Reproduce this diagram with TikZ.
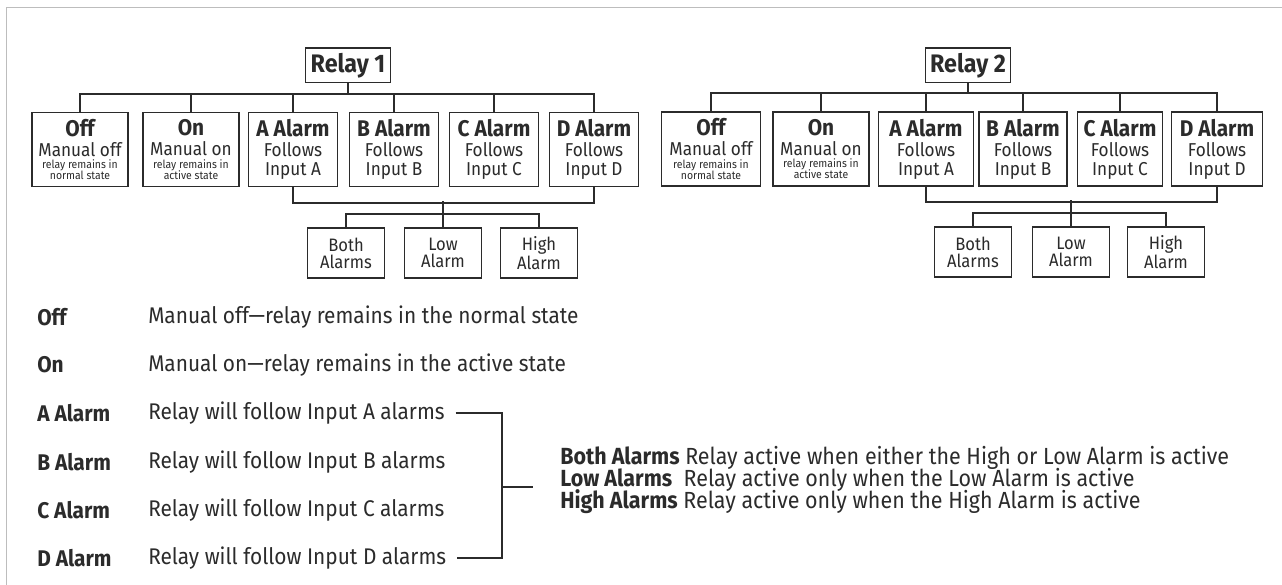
\documentclass[tikz,border=0pt]{standalone}
\usepackage{fontspec}
\setsansfont{Fira Sans}[FakeStretch=0.92]
\usetikzlibrary{positioning}
\definecolor{ink}{HTML}{2B2B2B}
\definecolor{framegray}{HTML}{BDBDBD}
\newcommand{\boxhd}{\fontsize{17}{17}\selectfont\bfseries}
\newcommand{\boxmd}{\fontsize{14}{14}\selectfont\mdseries}
\newcommand{\boxsm}{\fontsize{8.5}{8.5}\selectfont\mdseries}

\begin{document}
\begin{tikzpicture}[x=0.75pt, y=-0.75pt, font=\sffamily, text=ink,
  box/.style={draw=ink, line width=1pt, fill=white, align=center, inner sep=0pt, minimum width=67pt, minimum height=55.5pt, font=\sffamily\fontsize{14}{14.25}\selectfont},
  wide/.style={box, minimum width=72pt},
  sub/.style={box, minimum width=57.75pt, minimum height=37.5pt, font=\sffamily\fontsize{13.5}{12.75}\selectfont},
  relay/.style={box, minimum width=64pt, minimum height=26pt, font=\sffamily\bfseries\fontsize{19}{19}\selectfont},
  bus/.style={draw=ink, line width=1.5pt},
  link/.style={draw=ink, line width=1.1pt},
  key/.style={anchor=west, inner sep=0pt, font=\sffamily\bfseries\fontsize{17}{18}\selectfont},
  txt/.style={anchor=west, inner sep=0pt, font=\sffamily\fontsize{17}{18}\selectfont},
  note/.style={anchor=west, inner sep=0pt, font=\sffamily\fontsize{17.5}{18}\selectfont}]
\useasboundingbox (0,0) rectangle (1282,585);
\draw[framegray, line width=1pt] (6.5,585) -- (6.5,7.5) -- (1282,7.5);
% ---------------- Relay 1
\node[relay] (r1) at (348,65.5) {Relay 1};
\node[wide] (off1) at (80,149.6) {\boxhd Off\\[0.75pt]\boxmd Manual off\\[-5pt]\boxsm relay remains in\\[-5.95pt]\boxsm normal state};
\node[wide] (on1) at (191,149.6) {\boxhd On\\[0.75pt]\boxmd Manual on\\[-5pt]\boxsm relay remains in\\[-5.95pt]\boxsm active state};
\node[box] (aal1) at (293,149.6) {\boxhd A Alarm\\[0.75pt]\boxmd Follows\\\boxmd Input A};
\node[box] (bal1) at (394,149.6) {\boxhd B Alarm\\[0.75pt]\boxmd Follows\\\boxmd Input B};
\node[box] (cal1) at (494,149.6) {\boxhd C Alarm\\[0.75pt]\boxmd Follows\\\boxmd Input C};
\node[box] (dal1) at (594,149.6) {\boxhd D Alarm\\[0.75pt]\boxmd Follows\\\boxmd Input D};
\node[sub] (both1) at (346,253) {Both\\Alarms};
\node[sub] (low1) at (443,253) {Low\\Alarm};
\node[sub] (high1) at (539,253) {High\\Alarm};
\draw[bus] (off1.north) -- ++(0,-18) -| (dal1.north);
\foreach \n in {on1,aal1,bal1,cal1} \draw[bus] (\n.north) -- ++(0,-18);
\draw[bus] (r1.south) -- ++(0,12);
\draw[bus] (aal1.south) -- ++(0,16) -| (dal1.south);
\draw[bus] (both1.north) -- ++(0,-13) -| (high1.north);
\draw[bus] (low1.north) -- ++(0,-26);
% ---------------- Relay 2
\node[relay] (r2) at (968,65.5) {Relay 2};
\node[wide, minimum width=74pt] (off2) at (711,149) {\boxhd Off\\[0.75pt]\boxmd Manual off\\[-5pt]\boxsm relay remains in\\[-5.95pt]\boxsm normal state};
\node[wide] (on2) at (821,149) {\boxhd On\\[0.75pt]\boxmd Manual on\\[-5pt]\boxsm relay remains in\\[-5.95pt]\boxsm active state};
\node[box, minimum width=71pt] (aal2) at (926,149) {\boxhd A Alarm\\[0.75pt]\boxmd Follows\\\boxmd Input A};
\node[box, minimum width=66pt] (bal2) at (1023,149) {\boxhd B Alarm\\[0.75pt]\boxmd Follows\\\boxmd Input B};
\node[box, minimum width=64pt] (cal2) at (1120,149) {\boxhd C Alarm\\[0.75pt]\boxmd Follows\\\boxmd Input C};
\node[box, minimum width=68pt] (dal2) at (1217,149) {\boxhd D Alarm\\[0.75pt]\boxmd Follows\\\boxmd Input D};
\node[sub] (both2) at (973,252) {Both\\Alarms};
\node[sub] (low2) at (1071,252) {Low\\Alarm};
\node[sub] (high2) at (1166,252) {High\\Alarm};
\draw[bus] (off2.north) -- ++(0,-18) -| (dal2.north);
\foreach \n in {on2,aal2,bal2,cal2} \draw[bus] (\n.north) -- ++(0,-18);
\draw[bus] (r2.south) -- ++(0,11);
\draw[bus] (aal2.south) -- ++(0,15) -| (dal2.south);
\draw[bus] (both2.north) -- ++(0,-13) -| (high2.north);
\draw[bus] (low2.north) -- ++(0,-26);
% ---------------- legend
\foreach \lab/\expl/\yy [count=\i] in {Off/{Manual off—relay remains in the normal state}/317,
  On/{Manual on—relay remains in the active state}/365,
  A Alarm/Relay will follow Input A alarms/413,
  B Alarm/Relay will follow Input B alarms/462,
  C Alarm/Relay will follow Input C alarms/510,
  D Alarm/Relay will follow Input D alarms/558} {
  \node[key] (k\i) at (37,\yy) {\lab};
  \node[txt] (d\i) at (148,\yy) {\expl};
}
\coordinate (brk) at (502,487);
\draw[link] ([xshift=8pt]d3.east) -| (brk) |- ([xshift=8pt]d6.east);
\draw[link] (brk) -- ++(31,0);
\node[note] (both) at (560,458) {\textbf{Both Alarms} Relay active when either the High or Low Alarm is active};
\node[note] (low) at (560,480) {\textbf{Low Alarms}\ \ Relay active only when the Low Alarm is active};
\node[note] (high) at (560,502) {\textbf{High Alarms} Relay active only when the High Alarm is active};
\end{tikzpicture}
\end{document}
